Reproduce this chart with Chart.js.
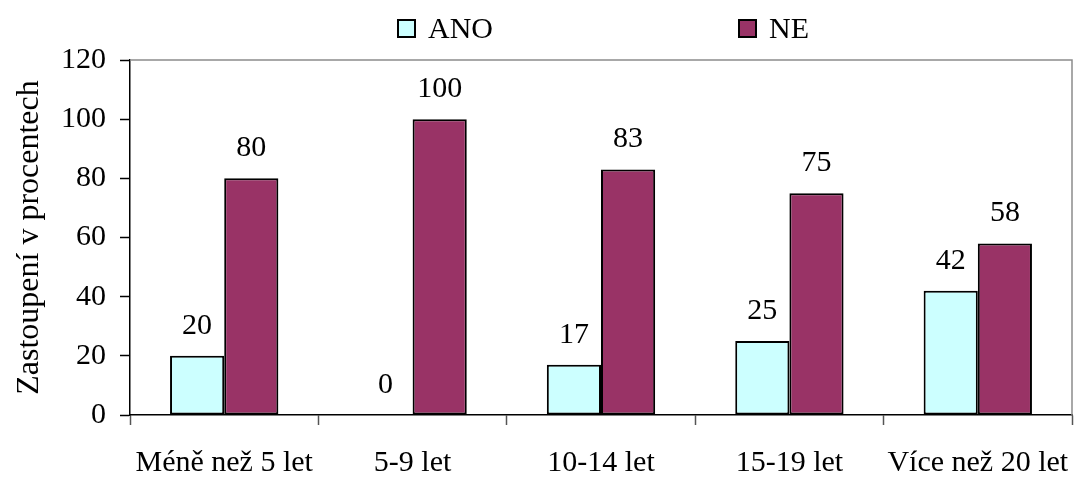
<!DOCTYPE html>
<html>
<head>
<meta charset="utf-8">
<script src="https://cdn.jsdelivr.net/npm/chart.js@4"></script>
<style>
  html, body { margin: 0; padding: 0; background: #fff; }
</style>
</head>
<body>
<canvas id="myChart" width="1075" height="477"></canvas>
<script>
var labels = ['Méně než 5 let', '5-9 let', '10-14 let', '15-19 let', 'Více než 20 let']
var anoValues = [20, 0, 17, 25, 42]
var neValues = [80, 100, 83, 75, 58]
var yTicks = [0, 20, 40, 60, 80, 100, 120]

var serif = '"Liberation Serif", "Times New Roman", serif'

// value text above each bar
var barValues = {
  id: 'barValues',
  afterDatasetsDraw: function (chart) {
    var ctx = chart.ctx
    ctx.save()
    ctx.font = '30px ' + serif
    ctx.fillStyle = '#000'
    ctx.textAlign = 'center'
    ctx.textBaseline = 'alphabetic'
    chart.data.datasets.forEach(function (ds, i) {
      chart.getDatasetMeta(i).data.forEach(function (bar, j) {
        ctx.fillText(String(ds.data[j]), bar.x, bar.y - 22)
      })
    })
    ctx.restore()
  }
}

// grey top and right edges of the plot
var frame = {
  id: 'frame',
  beforeDatasetsDraw: function (chart) {
    var a = chart.chartArea
    var ctx = chart.ctx
    ctx.save()
    ctx.strokeStyle = '#8c8c8c'
    ctx.lineWidth = 1.5
    ctx.beginPath()
    ctx.moveTo(a.left, a.top)
    ctx.lineTo(a.right, a.top)
    ctx.lineTo(a.right, a.bottom)
    ctx.stroke()
    ctx.restore()
  }
}

// legend row at the top, wide spacing between the two entries
var topLegend = {
  id: 'topLegend',
  afterDraw: function (chart) {
    var ctx = chart.ctx
    var startX = [398, 739]
    ctx.save()
    ctx.font = '30px ' + serif
    ctx.textBaseline = 'alphabetic'
    ctx.textAlign = 'left'
    chart.data.datasets.forEach(function (ds, i) {
      var x = startX[i]
      ctx.fillStyle = ds.backgroundColor
      ctx.fillRect(x, 20, 17, 17)
      ctx.strokeStyle = '#000'
      ctx.lineWidth = 2
      ctx.strokeRect(x, 20, 17, 17)
      ctx.fillStyle = '#000'
      ctx.fillText(ds.label, x + 30, 38)
    })
    ctx.restore()
  }
}

var ctx = document.getElementById('myChart').getContext('2d')
var myChart = new Chart(ctx, {
  type: 'bar',
  data: {
    labels: labels,
    datasets: [{
      label: 'ANO',
      data: anoValues,
      backgroundColor: '#ccffff',
      borderColor: '#000',
      borderWidth: 2,
      borderSkipped: false,
      barPercentage: 1,
      categoryPercentage: 0.575
    },
    {
      label: 'NE',
      data: neValues,
      backgroundColor: '#993366',
      borderColor: '#000',
      borderWidth: 2,
      borderSkipped: false,
      barPercentage: 1,
      categoryPercentage: 0.575
    }]
  },
  options: {
    responsive: false,
    animation: false,
    devicePixelRatio: 1,
    layout: { padding: { top: 60, right: 3, left: 0, bottom: 0 } },
    plugins: {
      legend: { display: false },
      tooltip: { enabled: false }
    },
    scales: {
      x: {
        grid: { display: true, drawOnChartArea: false, offset: true, tickLength: 10, color: '#555', tickWidth: 1.5 },
        border: { color: '#000', width: 1.5 },
        ticks: { color: '#000', font: { family: serif, size: 30 }, padding: 20, maxRotation: 0, autoSkip: false },
        afterFit: function (scale) {
          scale.height = 62
          scale.paddingLeft = 0
          scale.paddingRight = 0
        }
      },
      y: {
        min: 0,
        max: 120,
        afterBuildTicks: function (scale) {
          scale.ticks = yTicks.map(function (v) { return { value: v } })
        },
        grid: { display: true, drawOnChartArea: false, tickLength: 10, color: '#000', tickWidth: 1.5 },
        border: { color: '#000', width: 1.5 },
        ticks: { color: '#000', font: { family: serif, size: 30 }, padding: 14 },
        title: {
          display: true,
          text: 'Zastoupení v procentech',
          color: '#000',
          font: { family: serif, size: 32 },
          padding: { top: 10, bottom: 0 }
        },
        afterFit: function (scale) {
          scale.width = 130
          scale.paddingTop = 0
          scale.paddingBottom = 0
        }
      }
    }
  },
  plugins: [frame, barValues, topLegend]
})
</script>
</body>
</html>
